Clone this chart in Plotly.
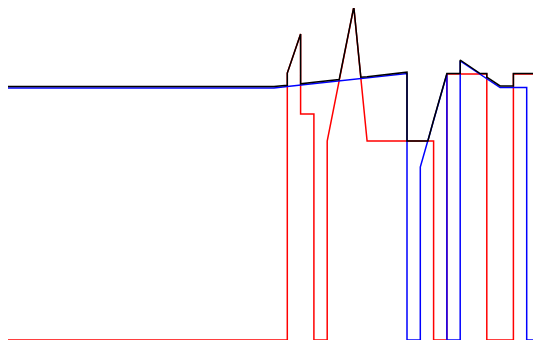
import plotly.graph_objects as go

# Series (x = step index, y = level)
red_x = [0, 21, 21, 22, 22, 23, 23, 24, 24, 25, 26, 27, 28, 29, 30, 31, 32, 32,
         33, 33, 34, 35, 36, 36, 37, 38, 38, 39, 40, 40]
red_y = [0, 0, 267, 306, 226, 226, 0, 0, 199, 266, 333, 199, 199, 199, 199, 199, 199, 0,
         0, 266, 266, 266, 266, 0, 0, 0, 266, 266, 266, 0]

blue_x = list(range(0, 31)) + [30, 31, 31, 32, 33, 33, 34, 34, 35, 36, 37, 38, 39, 39, 40]
blue_y = [252] * 21 + [253.5, 255, 256.5, 258, 259, 260.5, 262, 263.5, 265, 266.5] + \
         [0, 0, 173, 219, 266, 0, 0, 279, 270, 261.5, 252.5, 252.5, 252.5, 0, 0]

black_x = [0, 20, 21, 21, 22, 22, 23, 24, 24.9, 26, 26.53, 27, 28, 29, 30, 30, 31, 31.57,
           32, 33, 34, 34, 35, 35.5, 36, 36, 37, 38, 38, 39, 40, 40]
black_y = [253.5, 253.5, 254.7, 267, 306, 256.2, 257.7, 259.2, 260.4, 333, 262.8, 263.3,
           264.8, 266.3, 267.8, 199, 199, 199, 220, 266.5, 266.5, 280, 271, 266.5, 266.5,
           262.8, 254, 254, 266.5, 266.5, 266.5, 0]

fig = go.Figure()

fig.add_trace(go.Scatter(x=red_x, y=red_y, mode='lines',
                         line=dict(color='red', width=1.5), name='red'))
fig.add_trace(go.Scatter(x=blue_x, y=blue_y, mode='lines',
                         line=dict(color='blue', width=1.5), name='blue'))
fig.add_trace(go.Scatter(x=black_x, y=black_y, mode='lines',
                         line=dict(color='black', width=1.5), name='black'))

# page body adds an 8px offset, so plot area starts at the figure's edge
fig.update_layout(
    width=541, height=340,
    margin=dict(l=0, r=0, t=0, b=8),
    paper_bgcolor='white', plot_bgcolor='white',
    showlegend=False,
    xaxis=dict(range=[0, 40.677], visible=False, showgrid=False, zeroline=False),
    yaxis=dict(range=[0, 332], visible=False, showgrid=False, zeroline=False),
)

fig.write_html("out.html")
